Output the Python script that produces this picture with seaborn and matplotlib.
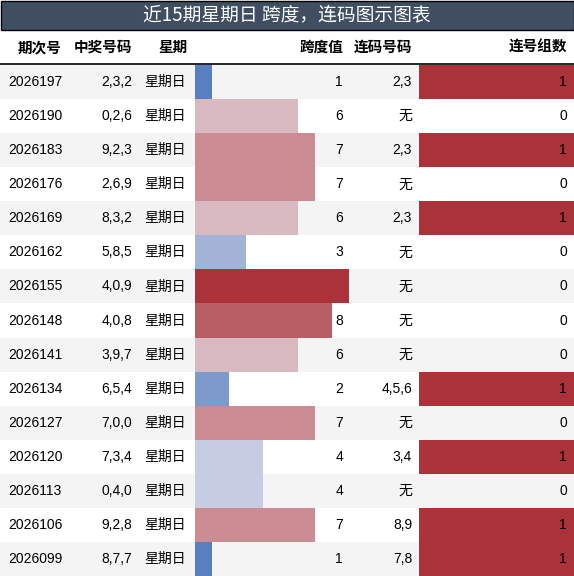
import numpy as np
import pandas as pd
import seaborn as sns
import matplotlib.pyplot as plt
from matplotlib.patches import Rectangle
from matplotlib.colors import LinearSegmentedColormap, Normalize

qihao = ["2026197", "2026190", "2026183", "2026176", "2026169", "2026162", "2026155", "2026148",
         "2026141", "2026134", "2026127", "2026120", "2026113", "2026106", "2026099"]
haoma = ["2,3,2", "0,2,6", "9,2,3", "2,6,9", "8,3,2", "5,8,5", "4,0,9", "4,0,8",
         "3,9,7", "6,5,4", "7,0,0", "7,3,4", "0,4,0", "9,2,8", "8,7,7"]
xingqi = ["星期日"] * 15
kuadu = [1, 6, 7, 7, 6, 3, 9, 8, 6, 2, 7, 4, 4, 7, 1]
lianma = ["2,3", "无", "2,3", "无", "2,3", "无", "无", "无", "无", "4,5,6", "无", "3,4", "无", "8,9", "7,8"]
lianzu = [1, 0, 1, 0, 1, 0, 0, 0, 0, 1, 0, 1, 0, 1, 1]

plt.rcParams['font.family'] = ['Liberation Sans', 'Noto Sans CJK SC', 'DejaVu Sans']
W, H = 574, 576
fig = plt.figure(figsize=(W / 100, H / 100), dpi=100)
ax = fig.add_axes([0, 0, 1, 1])
ax.set_xlim(0, W)
ax.set_ylim(H, 0)
ax.axis("off")

cmap = LinearSegmentedColormap.from_list("c", ["#5a7fc0", "#e9e7ee", "#ab3239"])
norm = Normalize(1, 9)

# title
ax.add_patch(Rectangle((0.5, 0.5), W - 1, 29, facecolor="#404e62", edgecolor="black", lw=1))
ax.text(W / 2, 15, "近15期星期日 跨度，连码图示图表", color="white", fontsize=13.5,
        ha="center", va="center", family=['Noto Sans CJK SC'])

hy = 47
for txt, x, ha in [("期次号", 62, "right"), ("中奖号码", 132, "right"), ("星期", 188, "right"),
                   ("跨度值", 343, "right"), ("连码号码", 412, "right"), ("连号组数", 567, "right")]:
    ax.text(x, hy, txt, fontsize=10.5, weight="bold", ha=ha, va="center",
            family=['Noto Sans CJK SC'])
ax.plot([0, W], [64, 64], color="black", lw=1.2)

y0, rh = 65, 34.07
for i in range(15):
    top = y0 + i * rh
    cy = top + rh / 2
    if i % 2 == 0:
        ax.add_patch(Rectangle((0, top), W, rh, facecolor="#f4f4f4", lw=0, zorder=0))
    if lianzu[i] > 0:
        ax.add_patch(Rectangle((419, top), W - 419, rh, facecolor="#ab3239", lw=0, zorder=1))
    kw = dict(fontsize=10, va="center")
    ax.text(8, cy, qihao[i], ha="left", **kw)
    ax.text(132, cy, haoma[i], ha="right", **kw)
    ax.text(186, cy, xingqi[i], ha="right", family=['Noto Sans CJK SC'], **kw)
    ax.text(343, cy, str(kuadu[i]), ha="right", zorder=5, **kw)
    ax.text(412, cy, lianma[i], ha="right", family=['Liberation Sans', 'Noto Sans CJK SC'], **kw)
    ax.text(567, cy, str(lianzu[i]), ha="right", **kw)

# span bars via seaborn
bax = fig.add_axes([195 / W, 1 - (y0 + 15 * rh) / H, 224 / W, 15 * rh / H])
bax.patch.set_alpha(0)
df = pd.DataFrame({"row": [str(i) for i in range(15)], "kuadu": kuadu})
sns.barplot(data=df, x="kuadu", y="row", orient="h", width=1.0, ax=bax,
            palette=[cmap(norm(v)) for v in kuadu], hue="row", legend=False,
            saturation=1, linewidth=0)
bax.set_xlim(0, 224 / 17.1)
bax.set_ylim(14.5, -0.5)
bax.axis("off")

fig.savefig("out.png", dpi=100)
